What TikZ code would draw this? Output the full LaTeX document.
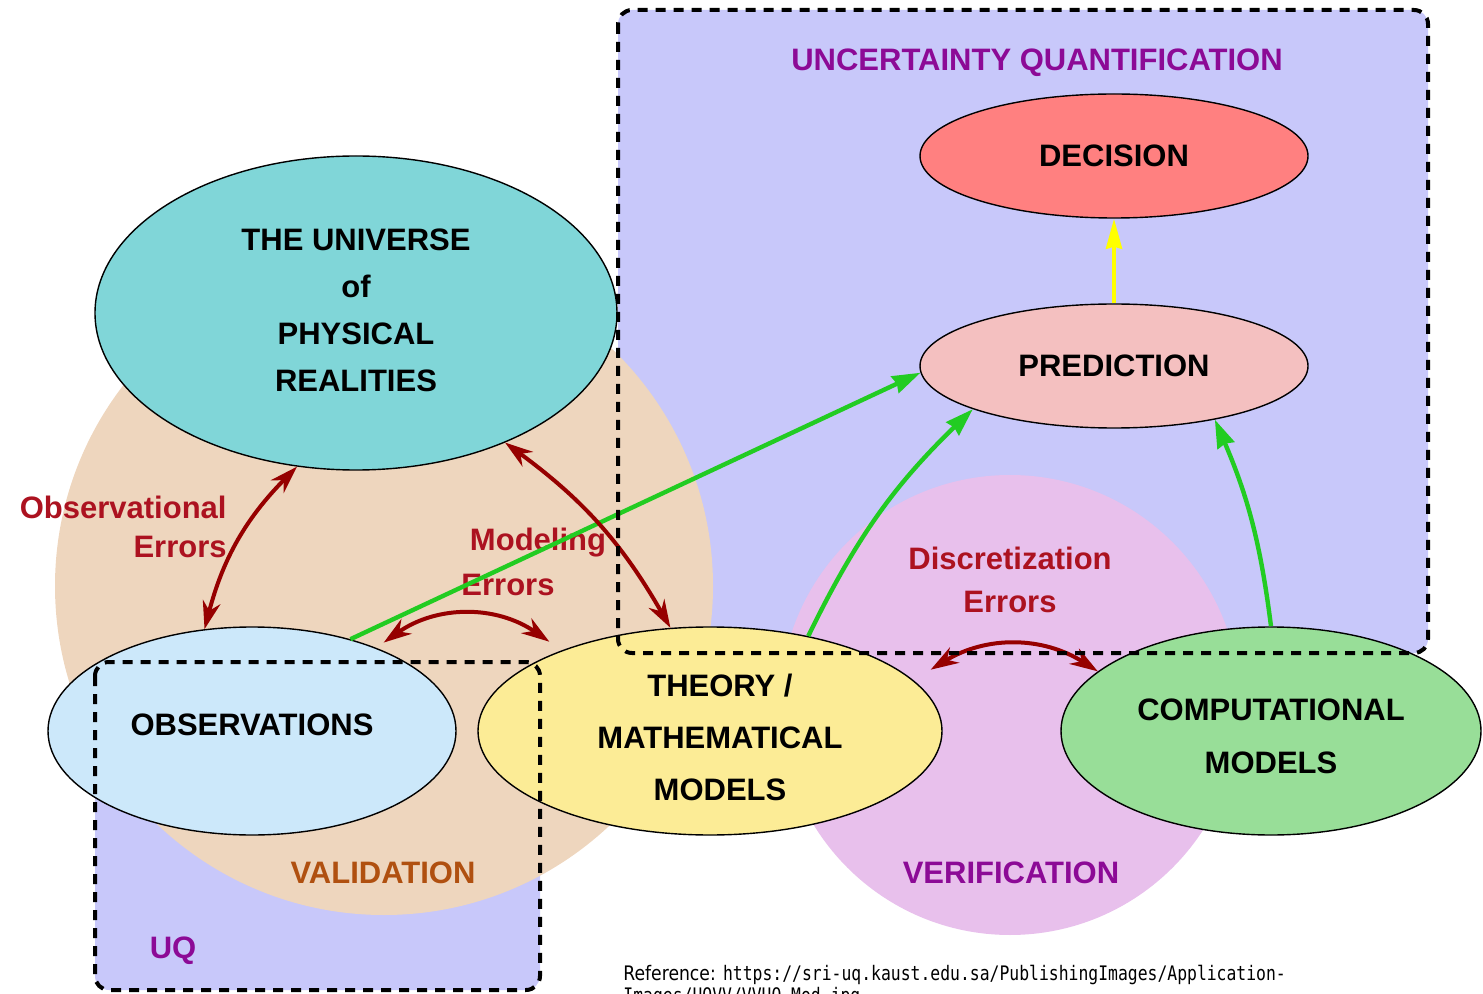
\documentclass[tikz,border=0pt]{standalone}
\usepackage{fontspec}
\setmainfont{Liberation Sans}
\newfontfamily\reffont{DejaVu Sans}[FakeStretch=0.86]
\newfontfamily\urlfont{DejaVu Sans Mono}[FakeStretch=0.82]
\usetikzlibrary{shapes.geometric,arrows.meta,positioning}

\definecolor{uqfill}{RGB}{200,200,250}
\definecolor{valfill}{RGB}{238,214,190}
\definecolor{verfill}{RGB}{232,192,236}
\definecolor{univfill}{RGB}{128,214,216}
\definecolor{obsfill}{RGB}{204,232,250}
\definecolor{thyfill}{RGB}{252,236,150}
\definecolor{compfill}{RGB}{152,222,152}
\definecolor{decfill}{RGB}{255,128,128}
\definecolor{predfill}{RGB}{244,192,192}
\definecolor{errred}{RGB}{172,18,32}
\definecolor{arrred}{RGB}{150,0,0}
\definecolor{uqpurple}{RGB}{140,10,150}
\definecolor{valbrown}{RGB}{176,80,16}
\definecolor{gogreen}{RGB}{34,204,34}
\definecolor{upyellow}{RGB}{255,255,0}

\begin{document}
\begin{tikzpicture}[
    x=0.5pt, y=0.5pt,
    font=\fontsize{15.5}{23.5}\selectfont\bfseries,
    blob/.style={ellipse, draw=black, line width=0.7pt, inner sep=0pt, align=center},
    zone/.style={draw=black, line width=2pt, dash pattern=on 5pt off 4pt, rounded corners=7pt},
    err/.style={<->, >={Stealth[length=14pt, width=9pt, inset=4.5pt]}, arrred, line width=2pt},
    feed/.style={->, >={Stealth[length=14pt, width=9pt, inset=1pt]}, gogreen, line width=2.2pt},
    errlbl/.style={text=errred, inner sep=0pt},
    note/.style={anchor=base west, inner sep=0pt, font=\reffont\mdseries\fontsize{10}{11}\selectfont},
  ]

  \useasboundingbox (0,0) rectangle (1483,-994);
  \clip (0,0) rectangle (1483,-994);

  % ---------- background regions ----------
  \fill[uqfill, rounded corners=7pt] (618,-10) rectangle (1428,-653);
  \fill[uqfill, rounded corners=7pt] (95,-662) rectangle (540,-990);
  \fill[valfill] (384,-586) circle (329);
  \fill[verfill] (1010,-705) circle (230);

  % ---------- ellipses ----------
  \node[blob, fill=univfill, minimum width=261pt, minimum height=157pt] (univ) at (356,-313) {};
  \node[align=center] (univtxt) at (356,-310) {THE UNIVERSE\\of\\PHYSICAL\\REALITIES};
  \node[blob, fill=obsfill, minimum width=204pt, minimum height=104pt] (obs) at (252,-731) {};
  \node (obstxt) at (252,-725) {OBSERVATIONS};
  \node[blob, fill=thyfill, minimum width=232pt, minimum height=104pt] (theory) at (710,-731) {};
  \node[align=center, font=\fontsize{15.5}{26}\selectfont\bfseries] (thytxt) at (720,-737)
    {THEORY /\\MATHEMATICAL\\MODELS};
  \node[blob, fill=compfill, minimum width=210pt, minimum height=104pt] (comp) at (1271,-731) {};
  \node[align=center, font=\fontsize{15.5}{26.5}\selectfont\bfseries] (comptxt) at (1271,-736)
    {COMPUTATIONAL\\MODELS};
  \node[blob, fill=decfill, minimum width=194pt, minimum height=62pt] (dec) at (1114,-156) {DECISION};
  \node[blob, fill=predfill, minimum width=194pt, minimum height=62pt] (pred) at (1114,-366) {PREDICTION};

  % ---------- region and error labels ----------
  \node[text=uqpurple] (uqtitle) at (1037,-63) {UNCERTAINTY QUANTIFICATION};
  \node[errlbl, align=right, anchor=east, font=\fontsize{15.5}{19.5}\selectfont\bfseries]
    (obserr) at (227,-527) {Observational\\Errors};
  \node[errlbl] (moderr) at (538,-543) {Modeling};
  \node[errlbl] (moderr2) at (508,-585) {Errors};
  \node[errlbl, align=center, font=\fontsize{15.5}{21.5}\selectfont\bfseries]
    (discerr) at (1010,-580) {Discretization\\Errors};
  \node[text=valbrown] (vallbl) at (383,-873) {VALIDATION};
  \node[text=uqpurple] (verlbl) at (1011,-873) {VERIFICATION};
  \node[text=uqpurple] (uqlbl) at (173,-951) {UQ};

  % ---------- feed-forward arrows ----------
  \draw[feed] (obs.43) -- (pred.182);
  \draw[feed] (theory.44) to[bend left=10] (pred.197);
  \draw[feed] (comp.90) to[bend right=8] (pred.332);
  \draw[->, >={Stealth[length=15pt, width=8pt, inset=1pt]}, upyellow, line width=2pt] (pred.north) -- (dec.south);

  % ---------- error arrows ----------
  \draw[err] (univ.249) to[bend right=15] (obs.115);
  \draw[err] (univ.319) to[bend left=12] (theory.111);
  \draw[err] ([shift={(8,5)}]obs.34) to[bend left=35] ([shift={(-14,8)}]theory.151);
  \draw[err] ([shift={(32,0)}]theory.18) to[bend left=32] (comp.161);

  % ---------- dashed UQ frames ----------
  \draw[zone] (618,-10) rectangle (1428,-653);
  \draw[zone] (95,-662) rectangle (540,-990);

  % ---------- source note ----------
  \node[note] (refnote) at (623,-980)
    {Reference: {\urlfont https://sri-uq.kaust.edu.sa/PublishingImages/Application-}};
  \node[note] (refnote2) at (623,-1002) {\urlfont Images/UQVV/VVUQ\_Mod.jpg};

\end{tikzpicture}
\end{document}
